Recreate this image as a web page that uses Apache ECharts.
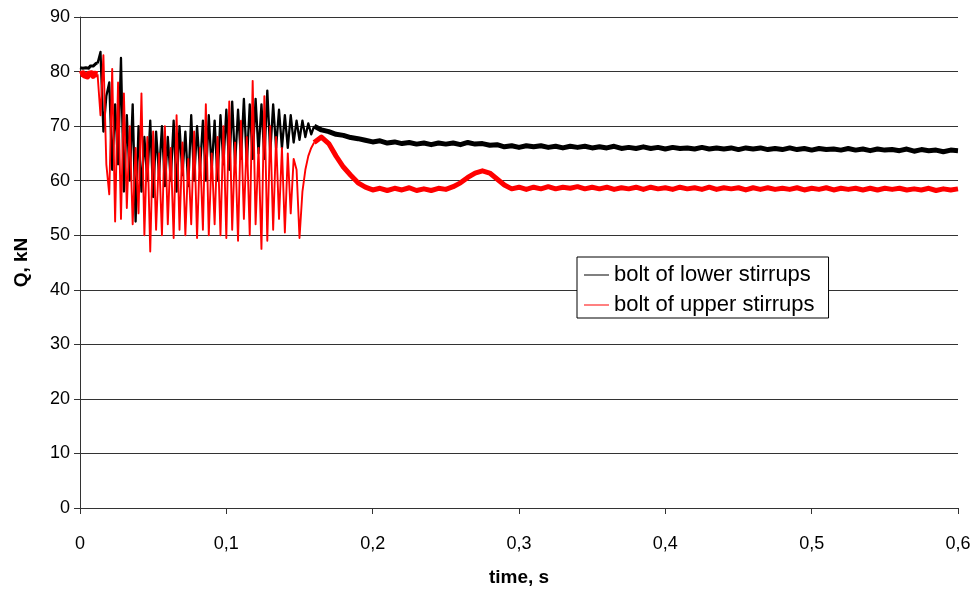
<!DOCTYPE html>
<html><head><meta charset="utf-8">
<script src="https://cdn.jsdelivr.net/npm/echarts@6/dist/echarts.min.js"></script>
<style>html,body{margin:0;padding:0;background:#fff}#c{width:976px;height:592px}</style>
</head><body><div id="c"></div>
<script>
// time samples, s
var tPlateau = [0,0.001,0.002,0.003,0.004,0.005,0.006,0.007,0.008,0.009,0.010,0.011,0.012];
var tOsc = [0.012,0.014,0.016,0.018,0.020,0.022,0.024,0.026,0.028,0.030,0.032,0.034,0.036,0.038,0.040,0.042,0.044,0.046,0.048,0.050,
  0.052,0.054,0.056,0.058,0.060,0.062,0.064,0.066,0.068,0.070,0.072,0.074,0.076,0.078,0.080,0.082,0.084,0.086,0.088,0.090,
  0.092,0.094,0.096,0.098,0.100,0.102,0.104,0.106,0.108,0.110,0.112,0.114,0.116,0.118,0.120,0.122,0.124,0.126,0.128,0.130,
  0.132,0.134,0.136,0.138,0.140,0.142,0.144,0.146,0.148,0.150,0.152,0.154,0.156,0.158,0.160];
var tSteady = [0.160,0.165,0.170,0.175,0.180,0.185,0.190,0.195,0.200,0.205,0.210,0.215,0.220,0.225,0.230,0.235,0.240,0.245,0.250,0.255,
  0.260,0.265,0.270,0.275,0.280,0.285,0.290,0.295,0.300,0.305,0.310,0.315,0.320,0.325,0.330,0.335,0.340,0.345,0.350,0.355,
  0.360,0.365,0.370,0.375,0.380,0.385,0.390,0.395,0.400,0.405,0.410,0.415,0.420,0.425,0.430,0.435,0.440,0.445,0.450,0.455,
  0.460,0.465,0.470,0.475,0.480,0.485,0.490,0.495,0.500,0.505,0.510,0.515,0.520,0.525,0.530,0.535,0.540,0.545,0.550,0.555,
  0.560,0.565,0.570,0.575,0.580,0.585,0.590,0.595,0.600];

// Q, kN — bolt of lower stirrups
var lowerPlateau = [80.7,80.9,80.6,80.9,80.7,80.9,80.6,81.0,80.8,81.0,81.2,81.5,81.5];
var lowerOsc = [81.5,83.6,69.0,75.5,78.0,62.0,74.0,63.0,82.5,58.0,72.0,60.0,74.0,52.5,70.0,58.0,68.0,60.0,71.0,57.0,
  69.0,61.0,70.0,59.0,68.0,60.0,71.0,58.0,70.0,61.0,69.0,59.0,72.0,60.0,70.0,62.0,71.0,60.0,72.0,62.0,
  71.0,60.0,72.0,63.0,73.0,62.0,74.5,63.0,73.0,64.0,75.0,63.0,74.0,64.0,75.0,65.0,74.0,64.0,76.5,65.0,
  74.0,66.0,73.0,66.0,72.0,66.0,72.0,67.0,71.0,67.5,71.0,68.0,70.5,68.5,70.0];
var lowerSteady = [70.0,69.3,69.0,68.5,68.3,67.9,67.7,67.4,67.1,67.3,
  66.9,67.1,66.8,67.0,66.7,66.9,66.6,66.9,66.7,66.9,
  66.6,67.0,66.7,66.8,66.5,66.6,66.2,66.4,66.1,66.4,
  66.2,66.4,66.1,66.3,66.0,66.3,66.1,66.3,66.0,66.2,
  66.0,66.3,65.9,66.1,65.9,66.2,65.9,66.1,65.8,66.1,
  65.9,66.0,65.8,66.1,65.8,66.0,65.8,66.0,65.7,66.0,
  65.8,66.0,65.7,65.9,65.7,66.0,65.7,65.9,65.6,65.9,
  65.7,65.8,65.6,65.9,65.6,65.8,65.5,65.8,65.6,65.7,
  65.5,65.8,65.4,65.7,65.5,65.6,65.3,65.6,65.5];

// Q, kN — bolt of upper stirrups
var upperPlateau = [79.5,79.2,79.7,79.3,79.6,79.1,79.6,79.3,79.7,79.2,79.6,79.4,79.5];
var upperOsc = [79.5,72.0,83.0,63.0,57.5,80.5,52.5,78.0,53.0,76.0,55.0,70.0,52.0,66.0,54.0,76.0,50.0,68.0,47.0,69.0,
  51.0,65.0,50.0,70.0,52.0,66.0,49.5,72.0,51.0,67.0,50.0,64.0,52.0,69.0,49.5,66.0,51.0,74.0,50.0,65.0,
  52.0,68.0,50.0,70.0,49.5,74.5,51.0,67.0,49.0,71.0,53.0,68.0,50.0,78.3,52.0,66.0,47.5,75.5,49.0,70.0,
  51.0,68.0,53.0,66.0,50.5,65.0,54.0,64.0,62.0,49.5,58.0,62.0,64.5,66.0,67.0];
var upperSteady = [67.0,68.0,66.8,64.5,62.5,61.0,59.6,58.8,58.3,58.6,
  58.2,58.6,58.3,58.7,58.2,58.5,58.2,58.6,58.4,58.9,
  59.6,60.6,61.4,61.8,61.4,60.3,59.2,58.5,58.8,58.4,
  58.8,58.5,58.9,58.5,58.8,58.6,58.9,58.5,58.8,58.5,
  58.8,58.4,58.7,58.5,58.8,58.4,58.8,58.5,58.7,58.4,
  58.8,58.5,58.7,58.4,58.8,58.4,58.7,58.5,58.7,58.3,
  58.7,58.4,58.7,58.4,58.6,58.4,58.7,58.3,58.6,58.4,
  58.7,58.3,58.6,58.4,58.6,58.3,58.6,58.3,58.6,58.4,
  58.6,58.3,58.5,58.3,58.6,58.2,58.5,58.3,58.5];

var xTicks = ['0','0,1','0,2','0,3','0,4','0,5','0,6'];
var nameLower = 'bolt of lower stirrups';
var nameUpper = 'bolt of upper stirrups';

function zip(t, v){ return t.map(function(x,i){ return [x, v[i]]; }); }
function ser(name, color, t, v, w, z){
  return {name:name, type:'line', symbol:'none', showSymbol:false, animation:false,
    lineStyle:{color:color, width:w, join:'round'}, itemStyle:{color:color}, data:zip(t,v), z:z};
}
var font = 'Liberation Sans, Arial, sans-serif';
var chart = echarts.init(document.getElementById('c'), null, {renderer:'canvas'});
chart.setOption({
  backgroundColor:'#fff',
  animation:false,
  grid:{left:80, right:18, top:17, bottom:81, containLabel:false},
  legend:{
    data:[{name:nameLower, icon:'rect'},{name:nameUpper, icon:'rect'}],
    orient:'vertical', left:577, top:257,
    backgroundColor:'#fff', borderColor:'#000', borderWidth:1,
    padding:[7,14,2,7], itemGap:8, itemWidth:25, itemHeight:1,
    textStyle:{fontFamily:font, fontSize:22, lineHeight:22, color:'#000'}
  },
  xAxis:{type:'value', min:0, max:0.6, interval:0.1,
    name:'time, s', nameLocation:'middle', nameGap:60,
    nameTextStyle:{fontFamily:font, fontSize:19, fontWeight:'bold', color:'#000'},
    axisLine:{show:true, lineStyle:{color:'#333', width:1}},
    axisTick:{show:true, inside:false, length:6, lineStyle:{color:'#333'}},
    axisLabel:{margin:27, fontFamily:font, fontSize:18, color:'#000',
      formatter:function(v){ return xTicks[Math.round(v*10)]; }},
    splitLine:{show:false}},
  yAxis:{type:'value', min:0, max:90, interval:10,
    name:'Q, kN', nameLocation:'middle', nameGap:49, nameRotate:90,
    nameTextStyle:{fontFamily:font, fontSize:19, fontWeight:'bold', color:'#000'},
    axisLine:{show:true, lineStyle:{color:'#333', width:1}},
    axisTick:{show:true, inside:false, length:6, lineStyle:{color:'#333'}},
    axisLabel:{margin:10, fontFamily:font, fontSize:18, color:'#000'},
    splitLine:{show:true, lineStyle:{color:'#333', width:1}}},
  series:[
    ser(nameLower,'#000000',tPlateau,lowerPlateau,3,2),
    ser(nameLower,'#000000',tOsc,lowerOsc,2.3,2),
    ser(nameLower,'#000000',tSteady,lowerSteady,5,2),
    ser(nameUpper,'#ff0000',tPlateau,upperPlateau,6,3),
    ser(nameUpper,'#ff0000',tOsc,upperOsc,1.9,3),
    ser(nameUpper,'#ff0000',tSteady,upperSteady,5,3)
  ]
});
</script></body></html>
